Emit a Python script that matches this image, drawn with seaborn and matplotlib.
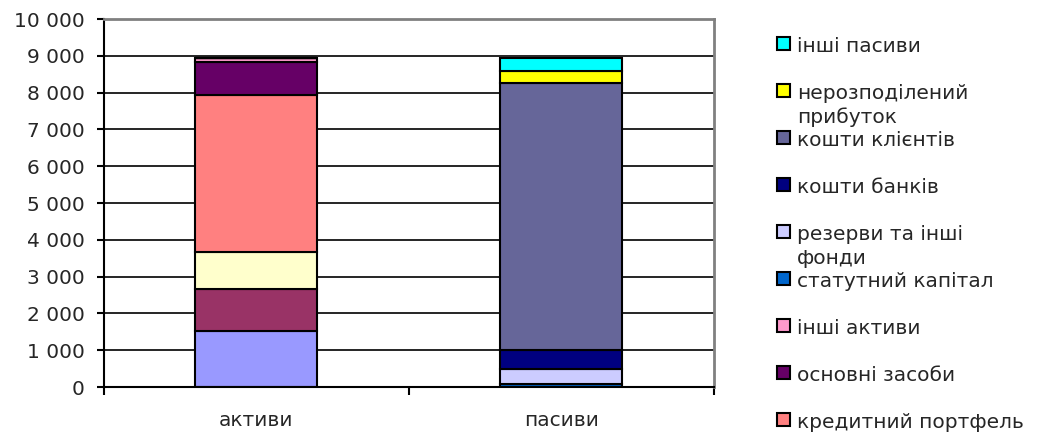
import numpy as np
import pandas as pd
import matplotlib
matplotlib.use("Agg")
import matplotlib.pyplot as plt
import matplotlib.ticker as mticker
from matplotlib.patches import Rectangle
import seaborn as sns

categories = ["активи", "пасиви"]

# series from the bottom of the stack upwards
series_names = [
    "грошові кошти",
    "кошти в банках",
    "цінні папери",
    "кредитний портфель",
    "основні засоби",
    "інші активи",
    "статутний капітал",
    "резерви та інші\nфонди",
    "кошти банків",
    "кошти клієнтів",
    "нерозподілений\nприбуток",
    "інші пасиви",
]
assets_values = [1520, 1150, 1000, 4260, 900, 120, 0, 0, 0, 0, 0, 0]
liabilities_values = [0, 0, 0, 0, 0, 0, 80, 400, 540, 7240, 330, 360]
series_colors = [
    "#9999FF", "#993366", "#FFFFCC", "#FF8080", "#660066", "#FF99CC",
    "#0066CC", "#CCCCFF", "#000080", "#666699", "#FFFF00", "#00FFFF",
]
# the three bottom asset series are cut off in the legend of the original
legend_series = series_names[3:]

sns.set_style("white")
plt.rcParams["font.family"] = ["DejaVu Sans"]
fs = 14.5

fig = plt.figure(figsize=(10.42, 4.32), dpi=100)
ax = fig.add_axes([0.0998, 0.104, 0.585, 0.852])

df = pd.DataFrame({"series": np.repeat(series_names, 2),
                   "category": categories * len(series_names),
                   "value": np.ravel(np.column_stack([assets_values, liabilities_values]))})
df["bottom"] = df.groupby("category")["value"].cumsum() - df["value"]

for name, color in zip(series_names, series_colors):
    sub = df[df["series"] == name]
    sns.barplot(data=sub, x="category", y="value", order=categories,
                bottom=sub["bottom"].to_numpy(), color=color, saturation=1,
                width=0.4, edgecolor="black", linewidth=1.5, ax=ax)

ax.set_ylim(0, 10000)
ax.set_xlim(-0.5, 1.5)
ax.yaxis.set_major_locator(mticker.MultipleLocator(1000))
ax.yaxis.set_major_formatter(mticker.FuncFormatter(lambda v, p: f"{int(v):,}".replace(",", " ")))
ax.yaxis.grid(True, color="black", linewidth=1.2)
ax.set_axisbelow(True)
ax.set_xlabel("")
ax.set_ylabel("")

for s in ["left", "bottom"]:
    ax.spines[s].set_color("black")
    ax.spines[s].set_linewidth(1.5)
for s in ["top", "right"]:
    ax.spines[s].set_color("#808080")
    ax.spines[s].set_linewidth(2)

ax.tick_params(axis="y", which="major", direction="out", length=5, width=1.5,
               color="black", labelsize=fs, left=True, pad=9)
ax.tick_params(axis="x", which="major", length=0, labelsize=fs, pad=17)
ax.set_xticks([-0.5, 0.5, 1.5], minor=True)
ax.tick_params(axis="x", which="minor", direction="out", length=6, width=1.5,
               color="black", bottom=True)

# legend, drawn item by item like the original (first line aligned with the key)
W, H = 1042, 432
y0, step, line_h = 43, 47, 24
for i, name in enumerate(reversed(legend_series)):
    color = series_colors[series_names.index(name)]
    yc = y0 + i * step
    fig.add_artist(Rectangle((777 / W, 1 - (yc + 6.5) / H), 13 / W, 13 / H,
                             transform=fig.transFigure, facecolor=color,
                             edgecolor="black", linewidth=1.5))
    for j, line in enumerate(name.split("\n")):
        fig.text(797 / W, 1 - (yc + 9 + j * line_h) / H, line, fontsize=fs,
                 va="baseline", ha="left")

fig.savefig("out.png", dpi=100)
